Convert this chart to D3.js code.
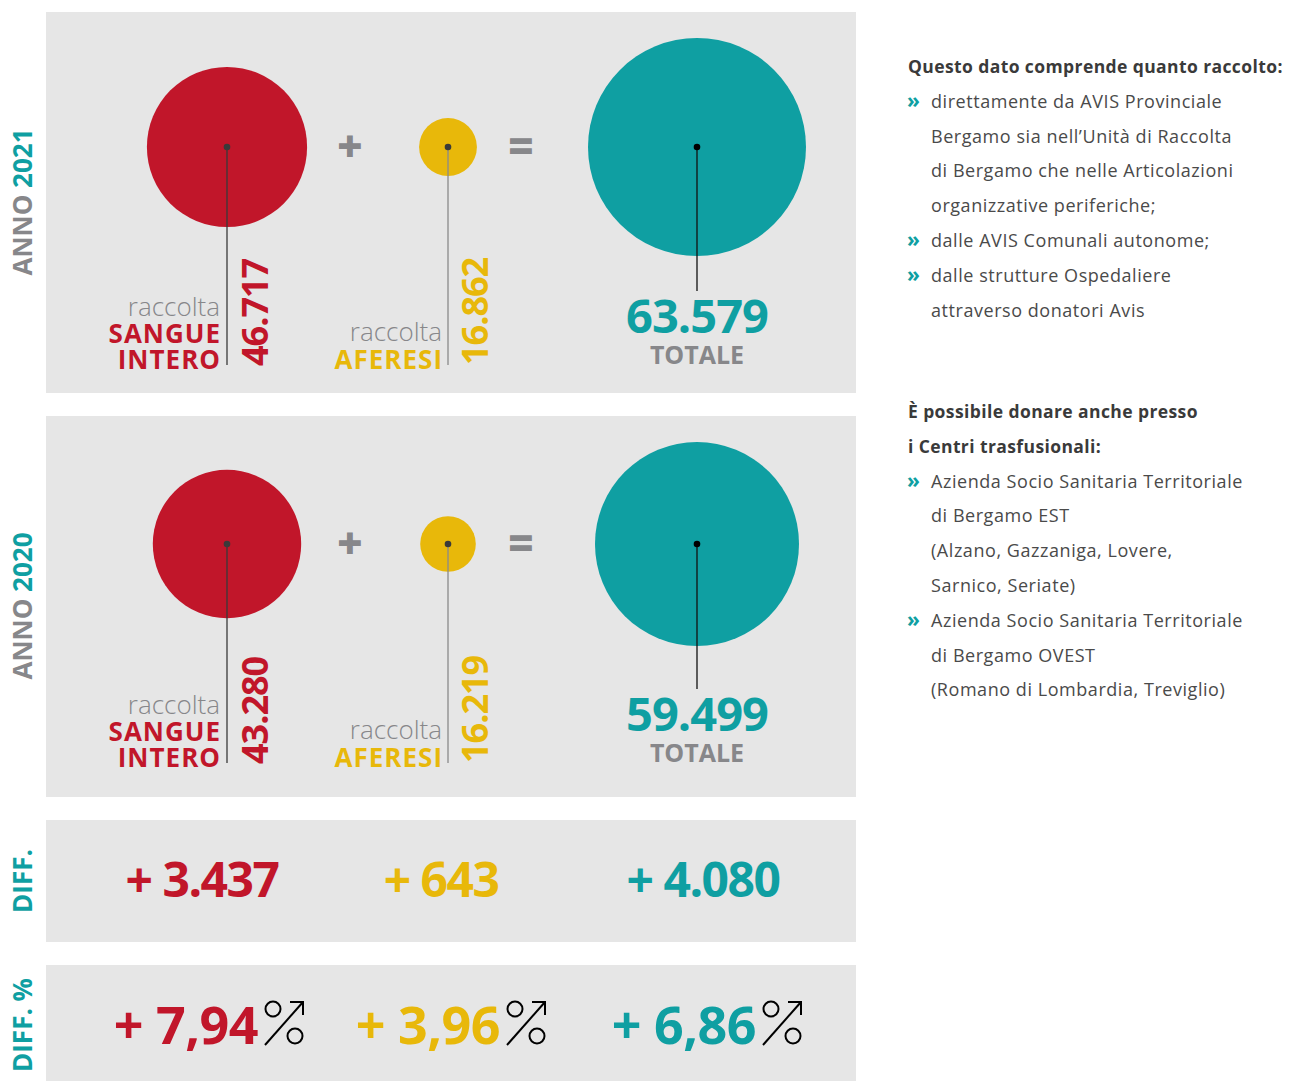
<!DOCTYPE html>
<html>
<head>
<meta charset="utf-8">
<script src="https://cdn.jsdelivr.net/npm/d3@7"></script>
<style>
  html, body { margin: 0; padding: 0; background: #fff; }
  svg { display: block; }
  .lbl { font-family: "Open Sans", "Noto Sans", sans-serif; font-weight: 700; }
  .thin { font-family: "Open Sans", sans-serif; font-weight: 300; }
  .side { font-family: "Open Sans", "Noto Sans", sans-serif; }
</style>
</head>
<body>
<div id="chart"></div>
<script>
// dati raccolta (unità)
const years    = ["2021", "2020"];
const sangue   = [46717, 43280];
const aferesi  = [16862, 16219];
const totale   = [63579, 59499];
const diffAbs  = ["+ 3.437", "+ 643", "+ 4.080"];
const diffPct  = ["+ 7,94", "+ 3,96", "+ 6,86"];

const note1Title = ["Questo dato comprende quanto raccolto:"];
const note1Items = [
  ["direttamente da AVIS Provinciale", "Bergamo sia nell’Unità di Raccolta", "di Bergamo che nelle Articolazioni", "organizzative periferiche;"],
  ["dalle AVIS Comunali autonome;"],
  ["dalle strutture Ospedaliere", "attraverso donatori Avis"]
];
const note2Title = ["È possibile donare anche presso", "i Centri trasfusionali:"];
const note2Items = [
  ["Azienda Socio Sanitaria Territoriale", "di Bergamo EST", "(Alzano, Gazzaniga, Lovere,", "Sarnico, Seriate)"],
  ["Azienda Socio Sanitaria Territoriale", "di Bergamo OVEST", "(Romano di Lombardia, Treviglio)"]
];

(() => {
  const W = 1290, H = 1081;
  const RED = "#c1162a", YEL = "#e8b80a", TEAL = "#0f9fa2", GRAY = "#87878a", BG = "#e6e6e6";

  const svg = d3.select("#chart").append("svg")
    .attr("width", W).attr("height", H);

  // raggio proporzionale al valore
  const r = d3.scaleLinear().domain([0, d3.max(totale)]).range([0, 109]);

  const colX = { s: 227, a: 448, t: 697 };
  const rowY = [147, 544];     // centro cerchi
  const rowB = [369, 767];     // linea base etichette
  const panels = [[12, 381], [416, 381], [820, 122], [965, 120]];

  svg.selectAll("rect.panel").data(panels).join("rect")
    .attr("class", "panel")
    .attr("x", 46).attr("width", 810)
    .attr("y", d => d[0]).attr("height", d => d[1])
    .attr("fill", BG);

  // etichette verticali a sinistra
  const sideLbl = [
    { parts: [["ANNO ", GRAY], [years[0], TEAL]], y: 202 },
    { parts: [["ANNO ", GRAY], [years[1], TEAL]], y: 606 },
    { parts: [["DIFF.", TEAL]], y: 881 },
    { parts: [["DIFF. %", TEAL]], y: 1025 }
  ];
  sideLbl.forEach(s => {
    const t = svg.append("text").attr("class", "lbl")
      .attr("transform", `translate(32,${s.y}) rotate(-90)`)
      .attr("text-anchor", "middle")
      .style("font-size", "26px");
    s.parts.forEach(p => t.append("tspan").attr("fill", p[1]).text(p[0]));
  });

  const fmt = d3.format(",");
  const it = v => fmt(v).replace(/,/g, ".");

  years.forEach((yr, i) => {
    const cy = rowY[i], B = rowB[i];
    const g = svg.append("g");

    const items = [
      { key: "s", v: sangue[i], c: RED, stick: "#3a3a3a" },
      { key: "a", v: aferesi[i], c: YEL, stick: "#8a8a8a" },
      { key: "t", v: totale[i], c: TEAL, stick: "#111" }
    ];

    g.selectAll("circle.bubble").data(items).join("circle")
      .attr("class", "bubble")
      .attr("cx", d => colX[d.key]).attr("cy", cy)
      .attr("r", d => r(d.v))
      .attr("fill", d => d.c);

    g.selectAll("line.stick").data(items).join("line")
      .attr("class", "stick")
      .attr("x1", d => colX[d.key]).attr("x2", d => colX[d.key])
      .attr("y1", cy)
      .attr("y2", d => d.key === "t" ? B - 78 : B - 4)
      .attr("stroke", d => d.stick).attr("stroke-width", 1.3);

    g.selectAll("circle.dot").data(items).join("circle")
      .attr("class", "dot")
      .attr("cx", d => colX[d.key]).attr("cy", cy).attr("r", 3.3)
      .attr("fill", d => d.key === "t" ? "#000" : "#3a3a3a");

    // operatori
    g.append("text").attr("class", "lbl")
      .attr("x", 350).attr("y", cy + 15).attr("text-anchor", "middle")
      .attr("fill", GRAY).style("font-size", "44px").style("font-weight", 800).text("+");
    g.append("text").attr("class", "lbl")
      .attr("x", 521).attr("y", cy + 15).attr("text-anchor", "middle")
      .attr("fill", GRAY).style("font-size", "44px").style("font-weight", 800).text("=");

    // etichette sangue intero
    const sx = colX.s - 7;
    g.append("text").attr("class", "thin").attr("x", sx).attr("y", B - 53)
      .attr("text-anchor", "end").attr("fill", GRAY).style("font-size", "26px").text("raccolta");
    g.append("text").attr("class", "lbl").attr("x", sx + 1).attr("y", B - 26)
      .attr("text-anchor", "end").attr("fill", RED).style("font-size", "26px")
      .style("letter-spacing", "1px").text("SANGUE");
    g.append("text").attr("class", "lbl").attr("x", sx + 1).attr("y", B)
      .attr("text-anchor", "end").attr("fill", RED).style("font-size", "26px")
      .style("letter-spacing", "1px").text("INTERO");
    g.append("text").attr("class", "lbl")
      .attr("transform", `translate(${colX.s + 41},${B - 3}) rotate(-90)`)
      .attr("fill", RED).style("font-size", "36px").style("letter-spacing", "-1px")
      .text(it(sangue[i]));

    // etichette aferesi
    const ax = colX.a - 6;
    g.append("text").attr("class", "thin").attr("x", ax).attr("y", B - 28)
      .attr("text-anchor", "end").attr("fill", GRAY).style("font-size", "26px").text("raccolta");
    g.append("text").attr("class", "lbl").attr("x", ax + 1).attr("y", B)
      .attr("text-anchor", "end").attr("fill", YEL).style("font-size", "26px")
      .style("letter-spacing", "1px").text("AFERESI");
    g.append("text").attr("class", "lbl")
      .attr("transform", `translate(${colX.a + 40},${B - 4}) rotate(-90)`)
      .attr("fill", YEL).style("font-size", "36px").style("letter-spacing", "-1px")
      .text(it(aferesi[i]));

    // totale
    g.append("text").attr("class", "lbl").attr("x", colX.t).attr("y", B - 36)
      .attr("text-anchor", "middle").attr("fill", TEAL).style("font-size", "47px")
      .style("letter-spacing", "-1px").text(it(totale[i]));
    g.append("text").attr("class", "lbl").attr("x", colX.t).attr("y", B - 5)
      .attr("text-anchor", "middle").attr("fill", GRAY).style("font-size", "25px").text("TOTALE");
  });

  // differenze
  const diffColor = [RED, YEL, TEAL];
  const dx = [202, 441, 703];
  svg.selectAll("text.diff").data(diffAbs).join("text")
    .attr("class", "diff lbl")
    .attr("x", (d, i) => dx[i]).attr("y", 897)
    .attr("text-anchor", "middle")
    .attr("fill", (d, i) => diffColor[i])
    .style("font-size", "48px").style("letter-spacing", "-1.5px")
    .text(d => d);

  // differenze percentuali + simbolo % con freccia
  const pEnd = [258, 500, 756];
  svg.selectAll("text.pct").data(diffPct).join("text")
    .attr("class", "pct lbl")
    .attr("x", (d, i) => pEnd[i]).attr("y", 1044)
    .attr("text-anchor", "end")
    .attr("fill", (d, i) => diffColor[i])
    .style("font-size", "52px").style("letter-spacing", "-0.5px")
    .text(d => d);

  const sym = svg.selectAll("g.sym").data(diffPct).join("g")
    .attr("class", "sym")
    .attr("transform", (d, i) => `translate(${pEnd[i] + 4},998)`)
    .attr("fill", "none").attr("stroke", "#000").attr("stroke-width", 2);
  sym.append("circle").attr("cx", 11).attr("cy", 11).attr("r", 7.5);
  sym.append("circle").attr("cx", 33).attr("cy", 38).attr("r", 7.5);
  sym.append("path").attr("d", "M3,47 L41,4");
  sym.append("path").attr("d", "M28,4 L41,4 L41,17");

  // note a destra
  const LH = 34.8;
  function block(titles, items, y0) {
    let y = y0;
    titles.forEach(t => {
      svg.append("text").attr("class", "side").attr("x", 908).attr("y", y)
        .attr("fill", "#3a3a3a").style("font-size", "17.5px").style("font-weight", 700)
        .style("letter-spacing", "0.4px").text(t);
      y += LH;
    });
    items.forEach(lines => {
      svg.append("text").attr("class", "side").attr("x", 907).attr("y", y)
        .attr("fill", TEAL).style("font-size", "21px").style("font-weight", 700).text("»");
      lines.forEach(l => {
        svg.append("text").attr("class", "side").attr("x", 931).attr("y", y)
          .attr("fill", "#4a4a4a").style("font-size", "18px")
          .style("letter-spacing", "0.55px").text(l);
        y += LH;
      });
    });
  }
  block(note1Title, note1Items, 73);
  block(note2Title, note2Items, 418);
})();
</script>
</body>
</html>
